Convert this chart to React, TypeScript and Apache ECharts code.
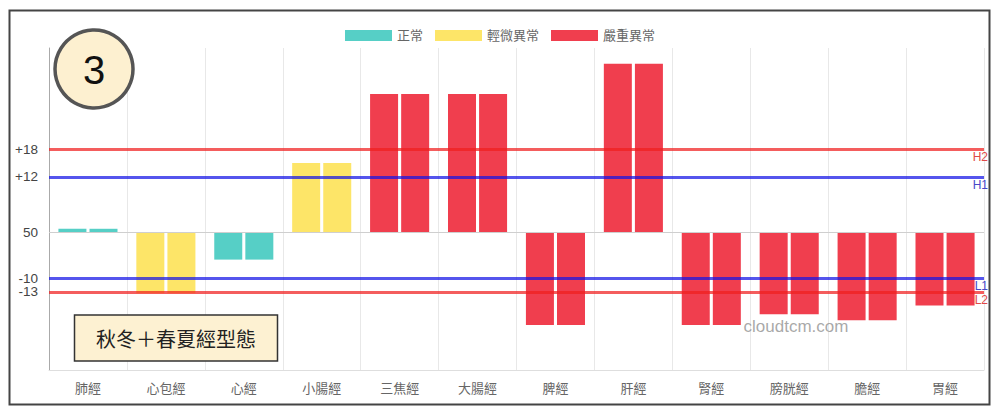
import { useRef, useEffect } from 'react';
import * as echarts from 'echarts';

// 經絡與量測值（以 50 為基準的偏差）
const meridians = ['肺經', '心包經', '心經', '小腸經', '三焦經', '大腸經', '脾經', '肝經', '腎經', '膀胱經', '膽經', '胃經'];
const leftValues = [0.7, -13.3, -6, 15, 30, 30, -20.2, 36.6, -20.2, -17.9, -19.2, -16];
const rightValues = [0.7, -13.3, -6, 15, 30, 30, -20.2, 36.6, -20.2, -17.9, -19.2, -16];
const status = ['normal', 'mild', 'normal', 'mild', 'severe', 'severe', 'severe', 'severe', 'severe', 'severe', 'severe', 'severe'];

const statusNames = ['正常', '輕微異常', '嚴重異常'];
const statusKeys = ['normal', 'mild', 'severe'];
const statusColors: Record<string, string> = {
  normal: '#56cfc6',
  mild: '#fde568',
  severe: '#f03e4e',
};

// 閾值線
const thresholdValues = [18, 12, -10, -13];
const thresholdNames = ['H2', 'H1', 'L1', 'L2'];
const tickValues = [-13, -10, 0, 12, 18];
const tickLabels = ['-13', '-10', '50', '+12', '+18'];

const FONT = "'Liberation Sans', 'Noto Sans CJK TC', sans-serif";
const RED_LINE = 'rgba(240, 30, 30, 0.72)';
const BLUE_LINE = 'rgba(20, 20, 230, 0.72)';

export default function App() {
  const chartRef = useRef<HTMLDivElement>(null);

  useEffect(() => {
    if (!chartRef.current) return;
    const chart = echarts.init(chartRef.current, null, { renderer: 'svg' });

    const barData = (values: number[]) =>
      values.map((v, i) => ({
        value: v,
        itemStyle: { color: statusColors[status[i]] },
      }));

    const isRed = (name: string) => name === 'H2' || name === 'L2';

    const option = {
      animation: false,
      textStyle: { fontFamily: FONT },
      legend: {
        data: statusNames,
        top: 24,
        left: 'center',
        icon: 'rect',
        itemWidth: 47,
        itemHeight: 11,
        itemGap: 12,
        textStyle: { color: '#666', fontSize: 13, fontFamily: FONT },
      },
      grid: { left: 49, right: 16, top: 48, bottom: 44 },
      xAxis: {
        type: 'category',
        data: meridians,
        axisLine: { onZero: false, lineStyle: { color: '#dedede' } },
        axisTick: { length: 10, interval: 0, lineStyle: { color: '#dedede' } },
        axisLabel: { color: '#666', fontSize: 13, margin: 12, interval: 0, fontFamily: FONT },
        splitLine: { show: true, interval: 0, lineStyle: { color: '#e8e8e8' } },
      },
      yAxis: {
        type: 'value',
        min: -30,
        max: 40,
        splitLine: { show: false },
        axisLine: { show: true, lineStyle: { color: '#aaa' } },
        axisTick: { show: false },
        axisLabel: {
          customValues: tickValues,
          color: '#444',
          fontSize: 13.5,
          margin: 11,
          fontFamily: FONT,
          formatter: (v: number) => tickLabels[tickValues.indexOf(v)] ?? '',
        },
      },
      graphic: [
        {
          type: 'rect',
          shape: { x: 9.5, y: 10.5, width: 980, height: 394 },
          style: { fill: 'none', stroke: '#444', lineWidth: 2 },
          silent: true,
        },
        {
          type: 'circle',
          shape: { cx: 94, cy: 69, r: 39 },
          style: { fill: '#fdf0d0', stroke: '#555', lineWidth: 3.5 },
          z: 10,
        },
        {
          type: 'text',
          x: 94,
          y: 70,
          style: { text: '3', font: "40px 'Liberation Sans', sans-serif", fill: '#111', align: 'center', verticalAlign: 'middle' },
          z: 11,
        },
        {
          type: 'rect',
          shape: { x: 74.5, y: 315, width: 203, height: 46 },
          style: { fill: '#fdf1d2', stroke: '#333', lineWidth: 1.5 },
          z: 10,
        },
        {
          type: 'text',
          x: 176,
          y: 338,
          style: { text: '秋冬＋春夏經型態', font: "20px 'Noto Sans CJK TC'", fill: '#222', align: 'center', verticalAlign: 'middle' },
          z: 11,
        },
        {
          type: 'text',
          x: 796,
          y: 326,
          style: { text: 'cloudtcm.com', font: "17px 'Liberation Sans', sans-serif", fill: 'rgba(140,140,140,0.75)', align: 'center', verticalAlign: 'middle' },
          z: 11,
        },
      ],
      series: [
        {
          name: '左',
          type: 'bar',
          data: barData(leftValues),
          barWidth: 28,
          barGap: '11%',
          markLine: {
            silent: true,
            symbol: ['none', 'none'],
            data: [
              { yAxis: 0, lineStyle: { color: '#cfcfcf', width: 1, type: 'solid' }, label: { show: false } },
              ...thresholdValues.map((v, i) => ({
                yAxis: v,
                lineStyle: { color: isRed(thresholdNames[i]) ? RED_LINE : BLUE_LINE, width: 3, type: 'solid' },
                label: {
                  show: true,
                  position: 'insideEndBottom',
                  formatter: thresholdNames[i],
                  color: isRed(thresholdNames[i]) ? '#e04848' : '#4848c8',
                  fontSize: 12,
                  distance: [-4, 2],
                  fontFamily: FONT,
                },
              })),
            ],
          },
        },
        {
          name: '右',
          type: 'bar',
          data: barData(rightValues),
          barWidth: 28,
          barGap: '11%',
        },
        ...statusNames.map((name, i) => ({
          name,
          type: 'line',
          data: [],
          itemStyle: { color: statusColors[statusKeys[i]] },
          lineStyle: { color: statusColors[statusKeys[i]] },
        })),
      ],
    };

    chart.setOption(option);

    return () => {
      chart.dispose();
    };
  }, []);

  return (
    <div
      ref={chartRef}
      style={{ position: 'fixed', left: 0, top: 0, width: 1000, height: 414, background: '#fff' }}
    />
  );
}
